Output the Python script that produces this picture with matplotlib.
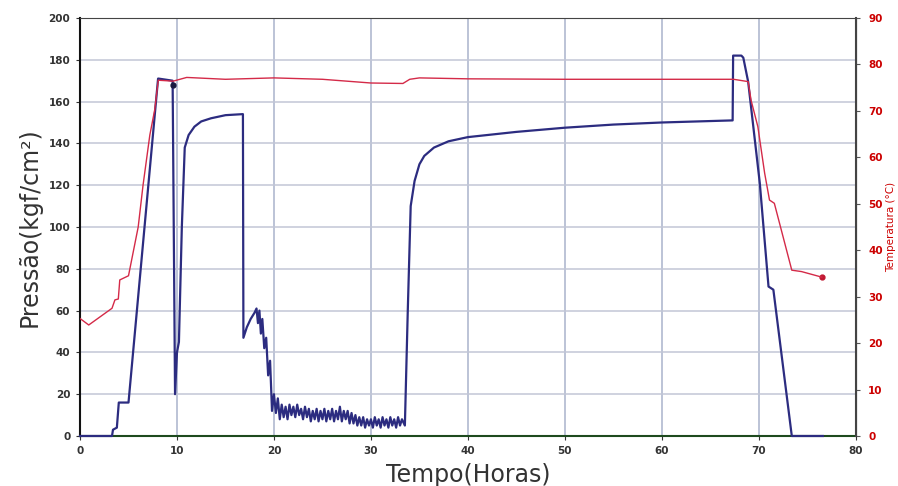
import matplotlib
matplotlib.use("Agg")
from matplotlib import pyplot as plt

# pressure (kgf/cm2) vs time (h)
press_t = [0, 3.3, 3.4, 3.8, 4.0, 4.2, 5.0, 8.05, 8.1, 9.55, 9.8, 10.0, 10.2, 10.5, 10.8,
           11.2, 11.8, 12.5, 13.5, 15.0, 16.8, 16.85, 17.2, 17.6, 18.0, 18.2, 18.35, 18.5,
           18.65, 18.8, 19.0, 19.2, 19.4, 19.6, 19.8, 20.0, 20.2, 20.4,
           20.6, 20.8, 21.0, 21.2, 21.4, 21.6, 21.8, 22.0, 22.2, 22.4, 22.6, 22.8,
           23.0, 23.2, 23.4, 23.6, 23.8, 24.0, 24.2, 24.4, 24.6, 24.8,
           25.0, 25.2, 25.4, 25.6, 25.8, 26.0, 26.2, 26.4, 26.6, 26.8,
           27.0, 27.2, 27.4, 27.6, 27.8, 28.0, 28.2, 28.4, 28.6, 28.8,
           29.0, 29.2, 29.4, 29.6, 29.8, 30.0, 30.2, 30.4, 30.6, 30.8,
           31.0, 31.2, 31.4, 31.6, 31.8, 32.0, 32.2, 32.4, 32.6, 32.8, 33.0, 33.2,
           33.5, 33.8, 34.1, 34.5, 35.0, 35.5, 36.5, 38.0, 40.0, 45.0, 50.0, 55.0, 60.0,
           67.3, 67.35, 67.6, 68.2, 68.4, 68.9, 70.1, 71.0, 71.5, 73.4, 76.6]
press_v = [0, 0, 3, 4, 16, 16, 16, 171, 171, 170, 20, 40, 45, 100, 138,
           144, 148, 150.5, 152, 153.5, 154, 47, 52, 56, 59, 61, 54, 60,
           49, 56, 42, 47, 29, 36, 12, 20, 11, 18,
           8, 15, 9, 14, 8, 15, 10, 14, 9, 15, 10, 13,
           8, 14, 9, 13, 7, 12, 8, 13, 7, 12,
           8, 13, 7, 12, 8, 13, 7, 12, 8, 14,
           7, 12, 8, 12, 6, 11, 6, 10, 5, 9,
           5, 9, 4, 8, 5, 8, 4, 9, 5, 8,
           4, 9, 5, 8, 4, 9, 5, 8, 4, 9, 5, 8,
           5, 60, 110, 122, 130, 134, 138, 141, 143, 145.5, 147.5, 149, 150,
           151, 182, 182, 182, 181, 169.5, 121, 71.5, 70, 0, 0]

# temperature (C) vs time (h), right axis
temp_t = [0, 0.9, 3.3, 3.6, 3.95, 4.1, 5.0, 6.0, 6.5, 7.2, 7.7, 8.07, 9.6, 11.0, 15.0,
          20.0, 25.0, 30.0, 33.3, 34.0, 35.0, 40.0, 50.0, 60.0, 67.4, 68.9, 69.2, 69.9,
          70.6, 71.1, 71.6, 73.4, 74.4, 76.5]
temp_v = [25.3, 23.9, 27.5, 29.3, 29.5, 33.6, 34.5, 45, 54, 64.8, 70.2, 76.6, 76.4, 77.2, 76.8,
          77.1, 76.8, 76.0, 75.9, 76.8, 77.1, 76.9, 76.8, 76.8, 76.8, 76.3, 72.3, 66.6,
          56.6, 50.8, 50.1, 35.7, 35.4, 34.2]

x_ticks = list(range(0, 81, 10))
p_ticks = list(range(0, 201, 20))
t_ticks = list(range(0, 91, 10))

fig = plt.figure(figsize=(8.98, 4.86), dpi=100)
ax = fig.add_axes([0.0891, 0.1029, 0.8639, 0.8601])
ax2 = ax.twinx()

ax.plot(press_t, press_v, color='#2c2c80', lw=1.6, zorder=5, clip_on=False)
ax2.plot(temp_t, temp_v, color='#d42a48', lw=1.0, zorder=3)
ax2.plot([temp_t[-1]], [temp_v[-1]], 'o', color='#c01830', ms=3.5)
ax.plot([9.6], [168], 'o', color='#1a1a40', ms=3.5, zorder=6)

ax.set_xlim(0, 80)
ax.set_ylim(0, 200)
ax2.set_ylim(0, 90)
ax.set_xticks(x_ticks)
ax.set_yticks(p_ticks)
ax2.set_yticks(t_ticks)

ax.yaxis.grid(True, color='#c2c6d6', lw=1.1)
ax.xaxis.grid(True, color='#a9b3cc', lw=1.1)
ax.set_axisbelow(True)

for lab in ax.get_xticklabels() + ax.get_yticklabels():
    lab.set_fontsize(7.5)
    lab.set_fontweight('bold')
    lab.set_color('#333333')
for lab in ax2.get_yticklabels():
    lab.set_fontsize(7.5)
    lab.set_fontweight('bold')
    lab.set_color('#cc0000')

ax.tick_params(axis='both', length=3, width=0.8, colors='#333333', pad=4)
ax.tick_params(axis='both', labelcolor='#333333')
ax2.tick_params(axis='y', length=3, width=0.8, colors='#555555', labelcolor='#cc0000', pad=6)

ax.spines['left'].set_linewidth(1.5)
ax.spines['left'].set_color('#111111')
ax.spines['bottom'].set_linewidth(1.5)
ax.spines['bottom'].set_color('#1e4a1e')
ax.spines['top'].set_color('#444444')
ax2.spines['right'].set_linewidth(1.5)
ax2.spines['right'].set_color('#444444')
ax2.spines['top'].set_visible(False)
ax2.spines['left'].set_visible(False)
ax2.spines['bottom'].set_visible(False)

ax.set_ylabel('Pressão(kgf/cm²)', fontsize=17, color='#333333', labelpad=5)
ax.set_xlabel('Tempo(Horas)', fontsize=17, color='#333333', labelpad=5)
ax2.set_ylabel('Temperatura (°C)', fontsize=7.5, color='#cc0000', labelpad=2)

fig.savefig('out.png', dpi=100)
